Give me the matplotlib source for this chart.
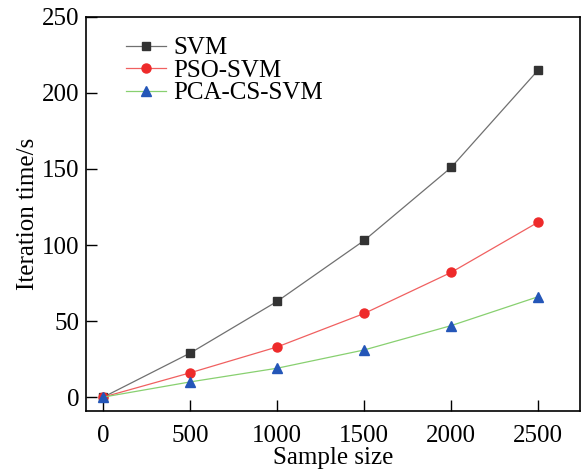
import numpy as np
import matplotlib.pyplot as plt

plt.rcParams['font.family'] = ['Liberation Serif', 'DejaVu Serif']

sample_size = [0, 500, 1000, 1500, 2000, 2500]
svm = [0, 29, 63, 103, 151, 215]
pso_svm = [0, 16, 33, 55, 82, 115]
pca_cs_svm = [0, 10, 19, 31, 47, 66]

fig = plt.figure(figsize=(5.81, 4.70), dpi=100)
ax = fig.add_axes([0.148, 0.126, 0.850, 0.838])

ax.plot(sample_size, svm, color='#707070', lw=0.9, marker='s', ms=5.5,
        mfc='#333333', mec='#333333', label='SVM')
ax.plot(sample_size, pso_svm, color='#f06060', lw=0.9, marker='o', ms=6.5,
        mfc='#ee2a2a', mec='#ee2a2a', label='PSO-SVM')
ax.plot(sample_size, pca_cs_svm, color='#88d070', lw=0.9, marker='^', ms=7,
        mfc='#2456b8', mec='#2456b8', label='PCA-CS-SVM')

ax.set_xlim(-100, 2740)
ax.set_ylim(-9, 250)
ax.set_xticks([0, 500, 1000, 1500, 2000, 2500])
ax.set_yticks([0, 50, 100, 150, 200, 250])
ax.tick_params(direction='in', length=8, width=1, labelsize=18)
ax.tick_params(axis='x', pad=10)
ax.tick_params(axis='y', pad=5)
ax.set_xlabel('Sample size', fontsize=18, labelpad=0)
ax.set_ylabel('Iteration time/s', fontsize=18, labelpad=2)
for s in ax.spines.values():
    s.set_linewidth(1.2)

ax.legend(loc='upper left', bbox_to_anchor=(0.06, 0.975), frameon=False,
          fontsize=18, handlelength=1.6, handletextpad=0.3, labelspacing=0.0,
          borderaxespad=0)

fig.savefig('out.png', dpi=100)
